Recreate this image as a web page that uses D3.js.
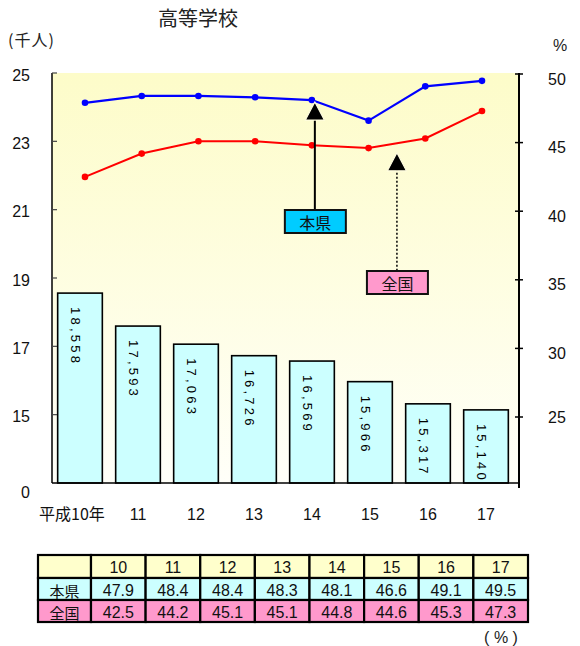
<!DOCTYPE html>
<html><head><meta charset="utf-8">
<script src="https://cdn.jsdelivr.net/npm/d3@7"></script>
<style>body{margin:0;background:#fff}svg{display:block}</style>
</head><body>
<script>
// ---- data ----
const categories   = ["平成10年","11","12","13","14","15","16","17"];
const tableHeaders = ["10","11","12","13","14","15","16","17"];
const students     = [18558,17593,17063,16726,16569,15966,15317,15140]; // 人
const rateKen      = [47.9,48.4,48.4,48.3,48.1,46.6,49.1,49.5];       // 本県 %
const rateZenkoku  = [42.5,44.2,45.1,45.1,44.8,44.6,45.3,47.3];       // 全国 %
const leftTicks    = [13,15,17,19,21,23,25];
const leftTickLabels = ["0","15","17","19","21","23","25"];
const rightTicks   = [25,30,35,40,45,50];
const rowLabels    = ["本県","全国"];

const W = 580, H = 646;
const NUM = "'Liberation Sans', Arial, sans-serif";
const JP  = "'Noto Sans CJK JP', 'Noto Sans', sans-serif";

const svg = d3.select("body").append("svg").attr("width", W).attr("height", H);

const plot = {l:52, r:518, t:73, b:483};

const yL = d3.scaleLinear().domain([13,25]).range([plot.b, plot.t]);
const yR = d3.scaleLinear().domain([25,50]).range([417, 74]);
const xB = d3.scaleBand().domain(categories).range([51,515]).paddingInner(0.23).paddingOuter(0.115);
const xP = d3.scalePoint().domain(categories).range([85,482]);

// background gradient
const defs = svg.append("defs");
const g = defs.append("linearGradient").attr("id","bg").attr("x1",0).attr("y1",0).attr("x2",0).attr("y2",1);
g.append("stop").attr("offset","0%").attr("stop-color","#fdfcc9");
g.append("stop").attr("offset","100%").attr("stop-color","#fffff9");
svg.append("rect").attr("x",plot.l).attr("y",plot.t).attr("width",plot.r-plot.l).attr("height",plot.b-plot.t).attr("fill","url(#bg)");

// title & units
svg.append("text").attr("x",198).attr("y",26).attr("text-anchor","middle")
  .attr("font-family",JP).attr("font-size",20).attr("fill","#222").text("高等学校");
svg.append("text").attr("x",8).attr("y",46)
  .attr("font-family",JP).attr("font-size",16).attr("fill","#222").attr("letter-spacing",1).text("(千人)");
svg.append("text").attr("x",560).attr("y",51).attr("text-anchor","middle")
  .attr("font-family",NUM).attr("font-size",16).attr("fill","#222").text("%");

// bars
const vals = students.map(v => v/1000);
svg.append("g").selectAll("rect").data(categories).join("rect")
  .attr("x", d => xB(d)).attr("width", xB.bandwidth())
  .attr("y", (d,i) => yL(vals[i])).attr("height", (d,i) => yL(13) - yL(vals[i]))
  .attr("fill","#ccffff").attr("stroke","#000").attr("stroke-width",1.6);

// bar labels (vertical)
svg.append("g").selectAll("text").data(categories).join("text")
  .attr("transform", (d,i) => `translate(${xB(d)+xB.bandwidth()/2-5},${yL(vals[i])+14}) rotate(90)`)
  .attr("dominant-baseline","central")
  .attr("font-family",NUM).attr("font-size",13).attr("letter-spacing",3.2).attr("fill","#000")
  .text((d,i) => d3.format(",")(students[i]));

// axes lines
svg.append("line").attr("x1",plot.l).attr("x2",plot.l).attr("y1",plot.t).attr("y2",plot.b).attr("stroke","#000").attr("stroke-width",1.5);
svg.append("line").attr("x1",plot.l).attr("x2",plot.r).attr("y1",plot.b).attr("y2",plot.b).attr("stroke","#000").attr("stroke-width",1.5);
svg.append("line").attr("x1",519).attr("x2",519).attr("y1",plot.t).attr("y2",488).attr("stroke","#000").attr("stroke-width",2);

// left ticks
const lt = svg.append("g");
lt.selectAll("line").data(leftTicks.filter(d=>d>13)).join("line")
  .attr("x1",plot.l).attr("x2",plot.l+5).attr("y1",d=>yL(d)).attr("y2",d=>yL(d))
  .attr("stroke","#444").attr("stroke-width",1.2);
lt.selectAll("text").data(leftTicks).join("text")
  .attr("x",30).attr("y",(d)=> yL(d) + (d===13?9:2)).attr("text-anchor","end").attr("dominant-baseline","central")
  .attr("font-family",NUM).attr("font-size",16).attr("fill","#111")
  .text((d,i)=>leftTickLabels[i]);

// right ticks
const rt = svg.append("g");
rt.selectAll("line").data(rightTicks).join("line")
  .attr("x1",515).attr("x2",523).attr("y1",d=>yR(d)).attr("y2",d=>yR(d))
  .attr("stroke","#000").attr("stroke-width",1.5);
rt.selectAll("text").data(rightTicks).join("text")
  .attr("x",548).attr("y",(d)=>yR(d)+ (d===25?0:5)).attr("dominant-baseline","central")
  .attr("font-family",NUM).attr("font-size",16).attr("fill","#111").text(d=>d);

// category labels
svg.append("g").selectAll("text").data(categories).join("text")
  .attr("x",(d,i)=> xB(d)+xB.bandwidth()/2 - (i===0?8:0)).attr("y",520).attr("text-anchor","middle")
  .attr("font-family",(d,i)=> i===0?JP:NUM).attr("font-size",16).attr("fill","#111").text(d=>d);

// lines
function drawSeries(data, color, w){
  const line = d3.line().x((d,i)=>xP(categories[i])).y(d=>yR(d));
  svg.append("path").datum(data).attr("d",line).attr("fill","none").attr("stroke",color).attr("stroke-width",w);
  svg.append("g").selectAll("circle").data(data).join("circle")
    .attr("cx",(d,i)=>xP(categories[i])).attr("cy",d=>yR(d)).attr("r",3.3).attr("fill",color);
}
drawSeries(rateZenkoku, "#ff0000", 2);
drawSeries(rateKen, "#0000ff", 2.2);

// annotations
function callout(x, tipY, boxTop, label, fill, dashed){
  const a = svg.append("g");
  a.append("line").attr("x1",x).attr("x2",x).attr("y1",tipY+16).attr("y2",boxTop)
    .attr("stroke","#000").attr("stroke-width",dashed?1.5:2).attr("stroke-dasharray",dashed?"2,2":null);
  a.append("path").attr("d",`M${x},${tipY} L${x-9.5},${tipY+18} L${x+9.5},${tipY+18} Z`)
    .attr("fill","#000").attr("stroke","#fffde0").attr("stroke-width",1.2);
  a.append("rect").attr("x",x-30).attr("y",boxTop).attr("width",61).attr("height",23)
    .attr("fill",fill).attr("stroke","#111").attr("stroke-width",2);
  a.append("text").attr("x",x+0.5).attr("y",boxTop+12).attr("text-anchor","middle").attr("dominant-baseline","central")
    .attr("font-family",JP).attr("font-size",16).attr("fill","#111").text(label);
}
callout(xP(categories[4])+3, yR(rateKen[4])+2, 210, "本県", "#00ccff", false);
callout((xP(categories[5])+xP(categories[6]))/2, yR(44.4)+2, 271, "全国", "#ff99cc", true);

// table
const colX = d3.scaleBand().domain(tableHeaders).range([91,528]);
const rowsY = [555,578,600,622];
const tbl = svg.append("g").attr("font-family",NUM).attr("font-size",16).attr("fill","#111");
const rowFills = ["#ffffcc","#ccffff","#ff99cc"];
const rowData = [tableHeaders, rateKen.map(d=>d.toFixed(1)), rateZenkoku.map(d=>d.toFixed(1))];
const rowHead = ["", ...rowLabels];
rowData.forEach((row, r) => {
  const y0 = rowsY[r], h = rowsY[r+1]-rowsY[r];
  tbl.append("rect").attr("x",38).attr("y",y0).attr("width",91-38).attr("height",h)
    .attr("fill",rowFills[r]).attr("stroke","#000").attr("stroke-width",2.2);
  if (rowHead[r]) tbl.append("text").attr("x",64.5).attr("y",y0+h/2+1).attr("text-anchor","middle").attr("dominant-baseline","central")
    .attr("font-family",JP).attr("font-size",15).text(rowHead[r]);
  tableHeaders.forEach((c, j) => {
    tbl.append("rect").attr("x",colX(c)).attr("y",y0).attr("width",colX.bandwidth()).attr("height",h)
      .attr("fill",rowFills[r]).attr("stroke","#000").attr("stroke-width",2.2);
    tbl.append("text").attr("x",colX(c)+colX.bandwidth()/2).attr("y",y0+h/2+1)
      .attr("text-anchor","middle").attr("dominant-baseline","central").text(row[j]);
  });
});
svg.append("text").attr("x",501).attr("y",637).attr("text-anchor","middle").attr("dominant-baseline","central")
  .attr("font-family",NUM).attr("font-size",16).attr("fill","#222").text("( % )");
</script>
</body></html>
